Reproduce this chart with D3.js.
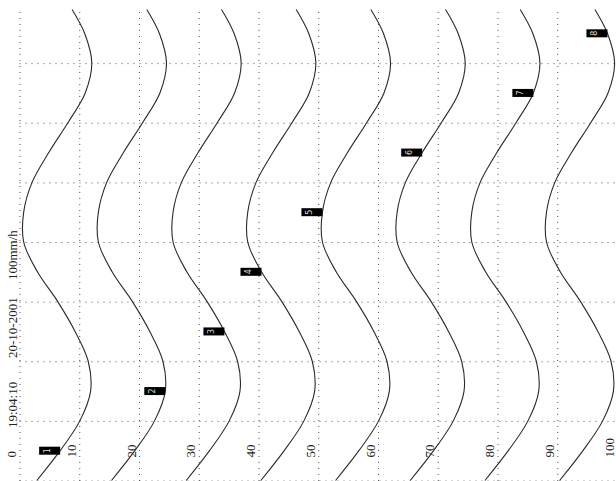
<!DOCTYPE html>
<html>
<head>
<meta charset="utf-8">
<script src="https://cdn.jsdelivr.net/npm/d3@7"></script>
<style>
  body { margin: 0; background: #fff; }
  svg { display: block; }
  text { font-family: "Liberation Serif", "Times New Roman", serif; }
</style>
</head>
<body>
<svg id="chart" width="616" height="481"></svg>
<script>
// time samples (grid units, top to bottom)
var times = [0.1, 0.5, 1, 1.5, 2, 2.5, 3, 3.5, 4, 4.5, 5, 5.5, 6, 6.5, 7, 7.5, 8]

// one array per trace, values in mm/h
var series1 = [8.8, 10.9, 12.1, 11.0, 8.1, 4.9, 2.1, 0.7, 0.7, 3.0, 6.4, 9.3, 11.5, 11.9, 10.1, 6.8, 2.9]
var series2 = [21.3, 23.4, 24.6, 23.5, 20.6, 17.4, 14.6, 13.2, 13.2, 15.5, 18.9, 21.8, 24.0, 24.4, 22.6, 19.3, 15.4]
var series3 = [33.8, 35.9, 37.1, 36.0, 33.1, 29.9, 27.1, 25.7, 25.7, 28.0, 31.4, 34.3, 36.5, 36.9, 35.1, 31.8, 27.9]
var series4 = [46.3, 48.4, 49.6, 48.5, 45.6, 42.4, 39.6, 38.2, 38.2, 40.5, 43.9, 46.8, 49.0, 49.4, 47.6, 44.3, 40.4]
var series5 = [58.8, 60.9, 62.1, 61.0, 58.1, 54.9, 52.1, 50.7, 50.7, 53.0, 56.4, 59.3, 61.5, 61.9, 60.1, 56.8, 52.9]
var series6 = [71.3, 73.4, 74.6, 73.5, 70.6, 67.4, 64.6, 63.2, 63.2, 65.5, 68.9, 71.8, 74.0, 74.4, 72.6, 69.3, 65.4]
var series7 = [83.8, 85.9, 87.1, 86.0, 83.1, 79.9, 77.1, 75.7, 75.7, 78.0, 81.4, 84.3, 86.5, 86.9, 85.1, 81.8, 77.9]
var series8 = [96.3, 98.4, 99.6, 98.5, 95.6, 92.4, 89.6, 88.2, 88.2, 90.5, 93.9, 96.8, 99.0, 99.4, 97.6, 94.3, 90.4]

var seriesNames = ["1", "2", "3", "4", "5", "6", "7", "8"]
var labelTimes = [7.5, 6.5, 5.5, 4.5, 3.5, 2.5, 1.5, 0.5]

var valueTicks = [0, 10, 20, 30, 40, 50, 60, 70, 80, 90, 100]
var timeTicks = [1, 2, 3, 4, 5, 6, 7, 8]
var infoLabels = ["19:04:10", "20-10-2001", "100mm/h"]

var allSeries = [series1, series2, series3, series4, series5, series6, series7, series8]

var W = 616, H = 481, plotTop = 9

var svg = d3.select("#chart")

var x = d3.scaleLinear().domain([0, 100]).range([19.5, 617])
var y = d3.scaleLinear().domain([0, 8]).range([3.5, 480.5])

svg.append("defs").append("clipPath").attr("id", "plot")
  .append("rect").attr("x", 0).attr("y", plotTop).attr("width", W).attr("height", H - plotTop)

// vertical grid
var gx = svg.append("g")
  .attr("transform", "translate(0," + H + ")")
  .call(d3.axisTop(x).tickValues(valueTicks).tickSize(H - plotTop).tickFormat(""))
gx.select(".domain").remove()

// horizontal grid
var gy = svg.append("g")
  .attr("transform", "translate(" + x(0) + ",0)")
  .call(d3.axisLeft(y).tickValues(timeTicks).tickSize(-(x(100) - x(0))).tickFormat(""))
gy.select(".domain").remove()

svg.selectAll(".tick line")
  .attr("stroke", "#555")
  .attr("stroke-width", 1)
  .attr("stroke-dasharray", "1,5")

// value tick labels, rotated
svg.append("g").selectAll("text")
  .data(valueTicks)
  .enter().append("text")
  .attr("transform", function (d) { return "translate(" + (x(d) - 3.5) + ",457.5) rotate(-90)" })
  .style("text-anchor", "start")
  .style("font-size", "13px")
  .attr("fill", "#222")
  .text(function (d) { return d })

// info texts on the left
var infoY = [428, 358, 280]
svg.append("g").selectAll("text")
  .data(infoLabels)
  .enter().append("text")
  .attr("transform", function (d, i) { return "translate(16.5," + infoY[i] + ") rotate(-90)" })
  .style("text-anchor", "start")
  .style("font-size", "13px")
  .attr("fill", "#222")
  .text(function (d) { return d })

// traces
var line = d3.line()
  .x(function (d) { return x(d) })
  .y(function (d, i) { return y(times[i]) })
  .curve(d3.curveCatmullRom.alpha(0.5))

svg.append("g").attr("clip-path", "url(#plot)")
  .selectAll("path")
  .data(allSeries)
  .enter().append("path")
  .attr("d", function (d) { return line(d) })
  .attr("fill", "none")
  .attr("stroke", "#2a2a2a")
  .attr("stroke-width", 1.1)

// trace number boxes
var boxes = svg.append("g").selectAll("g")
  .data(seriesNames)
  .enter().append("g")
  .attr("transform", function (d, i) {
    var t = labelTimes[i]
    var v = allSeries[i][times.indexOf(t)]
    return "translate(" + x(v) + "," + y(t) + ")"
  })

boxes.append("rect")
  .attr("x", -21).attr("y", -4)
  .attr("width", 21).attr("height", 8)
  .attr("fill", "#000")

boxes.append("text")
  .attr("transform", "translate(-13,0) rotate(-90)")
  .attr("dy", "0.35em")
  .style("text-anchor", "middle")
  .style("font-family", "'DejaVu Sans', sans-serif")
  .style("font-size", "8px")
  .attr("fill", "#ddd")
  .text(function (d) { return d })
</script>
</body>
</html>
